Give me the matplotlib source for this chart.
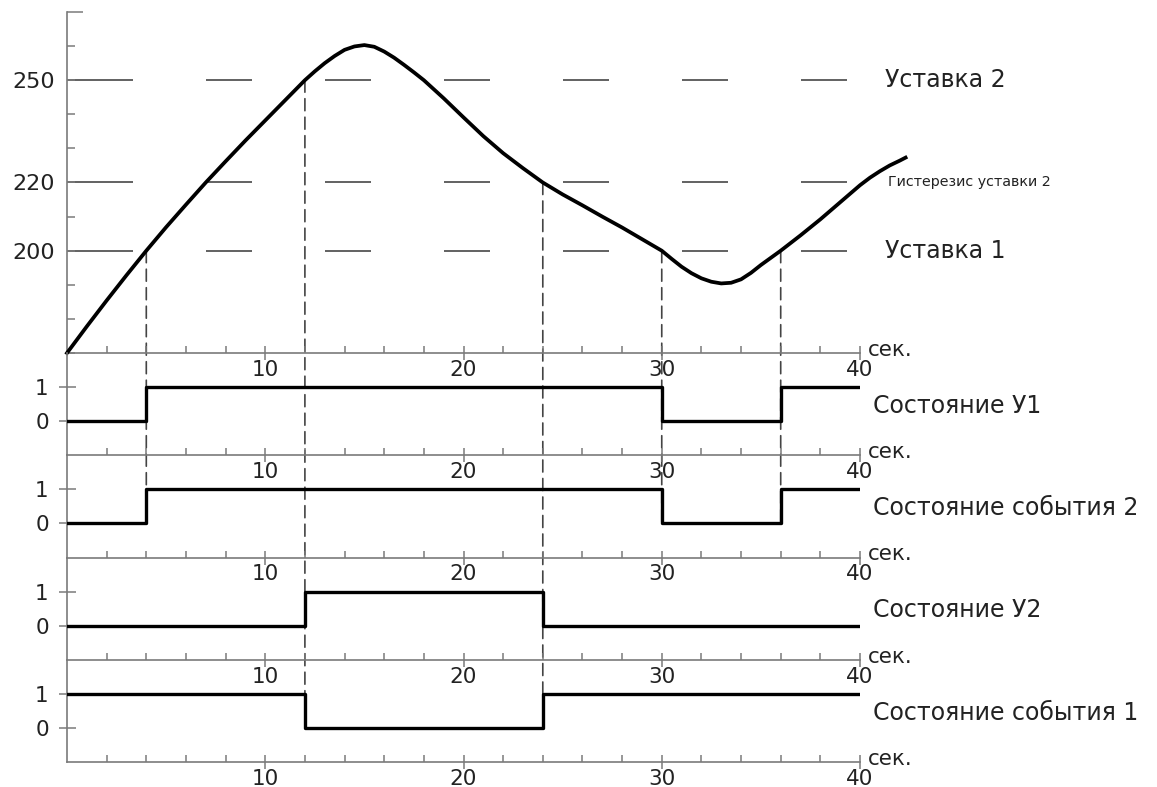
import matplotlib
matplotlib.use("Agg")
import matplotlib.pyplot as plt
from matplotlib.patches import ConnectionPatch

plt.rcParams['font.family'] = ['DejaVu Sans']
plt.rcParams['lines.scale_dashes'] = False

curve_t = [0, 1, 2, 3, 4, 5, 6, 7, 8, 9, 10, 11, 12, 12.5, 13, 13.5, 14, 14.5, 15,
           15.5, 16, 16.5, 17, 17.5, 18, 19, 20, 21, 22, 23, 24, 25, 26, 27, 28, 29,
           30, 30.5, 31, 31.5, 32, 32.5, 33, 33.5, 34, 34.5, 35, 35.5, 36, 37, 38, 39,
           40, 40.5, 41, 41.5, 42, 42.3]
curve_v = [170, 177.8, 185.4, 192.8, 200, 206.9, 213.5, 220, 226.2, 232.3, 238.2, 244.1,
           250, 252.6, 255, 257.1, 258.9, 259.9, 260.3, 259.8, 258.4, 256.6, 254.5,
           252.3, 250, 244.7, 239.1, 233.6, 228.6, 224.2, 220, 216.5, 213.3, 210, 206.8,
           203.4, 200, 197.6, 195.3, 193.4, 191.9, 190.9, 190.4, 190.6, 191.6, 193.5,
           195.8, 197.9, 200, 204.5, 209.2, 214.2, 219.2, 221.4, 223.3, 225.0, 226.4,
           227.3]

# set points
levels = [250, 220, 200]
level_names = ['Уставка 2', 'Гистерезис уставки 2', 'Уставка 1']
level_sizes = [17, 10.3, 17]

y_ticks = [170, 180, 190, 200, 210, 220, 230, 240, 250, 260, 270]
y_labeled = [200, 220, 250]

# relay / event states
state_names = ['Состояние У1', 'Состояние события 2', 'Состояние У2', 'Состояние события 1']
state_t = [[0, 4, 30, 36, 40], [0, 4, 30, 36, 40], [0, 12, 24, 40], [0, 12, 24, 40]]
state_v = [[0, 1, 0, 1, 1], [0, 1, 0, 1, 1], [0, 1, 0, 0], [1, 0, 1, 1]]

# switching moments: down to which state panel and level the dashed line goes
event_t = [4, 12, 24, 30, 36]
event_panel = [1, 3, 3, 1, 1]
event_level = [0, 1, 1, 0, 0]

x_major = [10, 20, 30, 40]
x_minor = [2, 4, 6, 8, 12, 14, 16, 18, 22, 24, 26, 28, 32, 34, 36, 38]

W, H = 1157, 787
axis_color = '#7a7a7a'
text_color = '#222222'
px = 0.72  # px -> pt at 100 dpi


def rect(x0, y0, x1, y1):
    return [x0 / W, 1 - y1 / H, (x1 - x0) / W, (y1 - y0) / H]


def style(ax):
    ax.set_facecolor('none')
    for s in ['top', 'right']:
        ax.spines[s].set_visible(False)
    for s in ['left', 'bottom']:
        ax.spines[s].set_color(axis_color)
        ax.spines[s].set_linewidth(1.2)
    ax.set_xlim(0, 40)
    ax.set_xticks(x_major)
    ax.set_xticks(x_minor, minor=True)
    ax.tick_params(axis='x', which='major', direction='inout', length=10, width=1.1,
                   color=axis_color, labelsize=15.5, labelcolor=text_color, pad=0)
    ax.tick_params(axis='x', which='minor', direction='in', length=5, width=1.1,
                   color=axis_color)
    ax.annotate('сек.', xy=(40, ax.get_ylim()[0]), xytext=(6, -2),
                textcoords='offset points', va='baseline', ha='left',
                fontsize=15.5, color=text_color, annotation_clip=False)


fig = plt.figure(figsize=(W / 100, H / 100), dpi=100)

left, right = 67, 860
top, axis0, band = 12, 353, 102.25

# top panel with the measured curve
ax_top = fig.add_axes(rect(left, top, right, axis0))
ax_top.set_ylim(170, 270)
style(ax_top)
ax_top.set_yticks(y_ticks, labels=[str(v) if v in y_labeled else '' for v in y_ticks])
ax_top.tick_params(axis='y', direction='in', length=8 * px, width=1.1, color=axis_color,
                   labelsize=16, labelcolor=text_color, pad=12 * px)
ax_top.yaxis.get_major_ticks()[-1].tick1line.set_markersize(16 * px)

hdash = [d * px for d in [66, 73] + [46, 73] * 6]
for v, name, fs in zip(levels, level_names, level_sizes):
    ax_top.axhline(v, color='#555555', lw=1.3, linestyle=(0, hdash), zorder=1)
    xt = 41.25 if fs > 12 else 41.4
    ax_top.text(xt, v, name, va='center', ha='left', fontsize=fs, color=text_color,
                clip_on=False)

ax_top.plot(curve_t, curve_v, color='black', lw=2.7, clip_on=False, zorder=3)

# state panels
state_axes = []
for i, name in enumerate(state_names):
    y0 = axis0 + band * i
    ax = fig.add_axes(rect(left, y0, right, y0 + band))
    ax.set_ylim(-1, 2)
    style(ax)
    ax.set_yticks([0, 1])
    ax.tick_params(axis='y', direction='inout', length=17 * px, width=1.1,
                   color=axis_color, labelsize=15.5, labelcolor=text_color, pad=7)
    ax.plot(state_t[i], state_v[i], drawstyle='steps-post', color='black', lw=2.4,
            zorder=3)
    ax.text(40.65, 0.45, name, va='center', ha='left', fontsize=17, color=text_color,
            clip_on=False)
    state_axes.append(ax)

# dashed lines from the crossings down through the state panels
for t, p, lvl in zip(event_t, event_panel, event_level):
    v = curve_v[curve_t.index(t)]
    con = ConnectionPatch(xyA=(t, v), coordsA=ax_top.transData,
                          xyB=(t, lvl), coordsB=state_axes[p].transData,
                          color='#444444', lw=1.2, linestyle=(0, (12 * px, 6.5 * px)),
                          zorder=-1)
    fig.add_artist(con)

fig.savefig('out.png', dpi=100, facecolor='white')
